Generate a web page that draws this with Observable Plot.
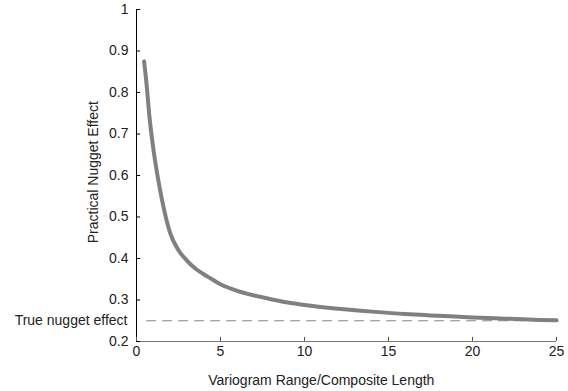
<!DOCTYPE html>
<html>
<head>
<meta charset="utf-8">
<script src="https://cdn.jsdelivr.net/npm/d3@7"></script>
<script src="https://cdn.jsdelivr.net/npm/@observablehq/plot@0.6"></script>
<style>
  html, body { margin: 0; padding: 0; background: #fff; }
  #chart svg { display: block; font-family: "Liberation Sans", Arial, sans-serif; }
</style>
</head>
<body>
<div id="chart"></div>
<script>
// Data
const rangeRatio = [0.45, 0.6, 0.75, 1, 1.25, 1.5, 2, 2.5, 3, 3.5, 4, 4.5, 5, 6, 7, 8, 9, 10, 12, 14, 16, 18, 20, 22, 24, 25];
const nuggetEffect = [0.875, 0.82, 0.75, 0.665, 0.6, 0.545, 0.462, 0.42, 0.395, 0.376, 0.362, 0.35, 0.338, 0.322, 0.311, 0.302, 0.294, 0.288, 0.279, 0.272, 0.266, 0.262, 0.258, 0.255, 0.252, 0.251];
const trueNugget = 0.25;
const xTicks = [0, 5, 10, 15, 20, 25];
const yTicks = [0.2, 0.3, 0.4, 0.5, 0.6, 0.7, 0.8, 0.9, 1];
const xLabel = "Variogram Range/Composite Length";
const yLabel = "Practical Nugget Effect";
const refLabel = "True nugget effect";

const curve = rangeRatio.map((x, i) => ({x, y: nuggetEffect[i]}));
const fmt = d => String(d);

const chart = Plot.plot({
  width: 568,
  height: 391,
  marginLeft: 136,
  marginRight: 12,
  marginTop: 9,
  marginBottom: 50,
  style: {fontSize: "14px", fontFamily: "'Liberation Sans', Arial, sans-serif", color: "#222"},
  x: {domain: [0, 25]},
  y: {domain: [0.2, 1]},
  marks: [
    // reference dashed line
    Plot.ruleY([trueNugget], {x1: 0.6, x2: 25, stroke: "#8a8a8a", strokeWidth: 1, strokeDasharray: "10,6"}),
    // curve
    Plot.line(curve, {x: "x", y: "y", stroke: "#808080", strokeWidth: 4, curve: "monotone-x"}),
    // axis lines
    Plot.ruleX([0], {y1: 0.2, y2: 1, stroke: "#000", strokeWidth: 1}),
    Plot.ruleY([0.2], {x1: 0, x2: 25, stroke: "#777", strokeWidth: 1}),
    // inward ticks
    Plot.ruleY(yTicks, {y: d => d, x1: 0, x2: 0.25, stroke: "#000"}),
    Plot.ruleX(xTicks, {x: d => d, y1: 0.2, y2: 0.21, stroke: "#555"}),
    // tick labels
    Plot.axisY(yTicks, {tickSize: 0, tickPadding: 8, tickFormat: fmt, label: null, fill: "#222", fontSize: 14}),
    Plot.axisX(xTicks, {tickSize: 0, tickPadding: 5, tickFormat: fmt, label: null, fill: "#222", fontSize: 14}),
    // reference label
    Plot.text([refLabel], {x: 0, y: trueNugget, dx: -9, textAnchor: "end", fill: "#222", fontSize: 14}),
    // axis titles
    Plot.text([xLabel], {x: 11, y: 0.2, dy: 39, fill: "#222", fontSize: 14}),
    Plot.text([yLabel], {x: 0, y: 0.608, dx: -43, rotate: -90, fill: "#222", fontSize: 14})
  ]
});
document.getElementById("chart").append(chart);
</script>
</body>
</html>
